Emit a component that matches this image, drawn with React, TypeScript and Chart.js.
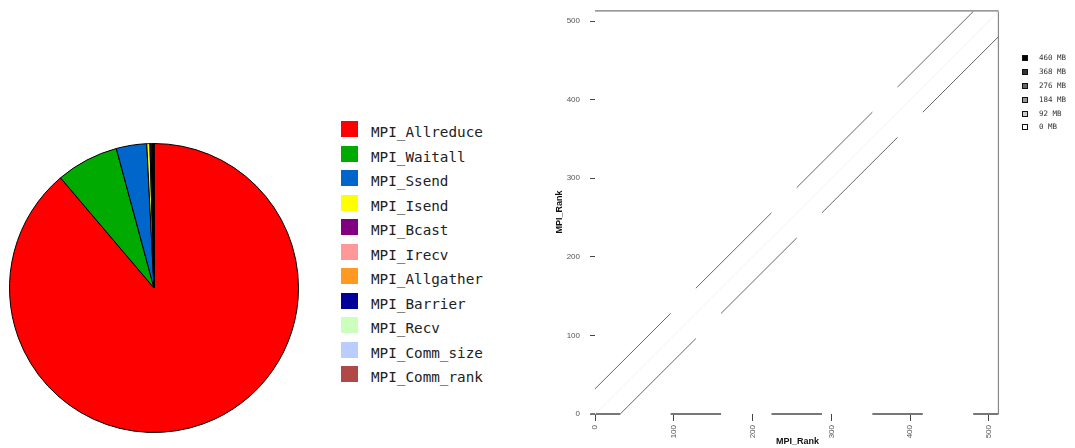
import React, { useEffect, useRef } from 'react';
import { Chart, registerables } from 'chart.js';

Chart.register(...registerables);

// ---------- Pie data ----------
const categories = [
  'MPI_Allreduce', 'MPI_Waitall', 'MPI_Ssend', 'MPI_Isend', 'MPI_Bcast', 'MPI_Irecv',
  'MPI_Allgather', 'MPI_Barrier', 'MPI_Recv', 'MPI_Comm_size', 'MPI_Comm_rank',
];
const pieValues = [88.8, 7.0, 3.4, 0.35, 0.12, 0.1, 0.08, 0.06, 0.04, 0.03, 0.02];
const pieColors = [
  '#ff0000', '#00aa00', '#0066cc', '#ffff00', '#800080', '#ff9999',
  '#ff9922', '#000099', '#ccffbb', '#bbccff', '#b04848',
];

// ---------- Communication matrix data ----------
const rankTicks = [0, 100, 200, 300, 400, 500];
const upperX = [0, 96, null, 128, 224, null, 256, 352, null, 384, 480];
const upperY = [32, 128, null, 160, 256, null, 288, 384, null, 416, 512];
const lowerX = [32, 128, null, 160, 256, null, 288, 384, null, 416, 512];
const lowerY = [0, 96, null, 128, 224, null, 256, 352, null, 384, 480];
const bottomX = [-6, 32, null, 96, 160, null, 224, 288, null, 352, 416, null, 480, 512];
const bottomY = [0, 0, null, 0, 0, null, 0, 0, null, 0, 0, null, 0, 0];
const topX = [0, 512];
const topY = [513, 513];
const rightX = [512, 512];
const rightY = [0, 513];
const selfX = [0, 512];
const selfY = [0, 512];

const volumeLabels = ['460 MB', '368 MB', '276 MB', '184 MB', '92 MB', '0 MB'];
const volumeColors = ['#000000', '#333333', '#666666', '#999999', '#cccccc', '#ffffff'];

function pts(xs: (number | null)[], ys: (number | null)[]) {
  return xs.map((x, i) => (x === null ? { x: null, y: null } : { x, y: ys[i] })) as any;
}

function lineDs(xs: (number | null)[], ys: (number | null)[], color: string, width: number) {
  return {
    data: pts(xs, ys),
    showLine: true,
    borderColor: color,
    borderWidth: width,
    pointRadius: 0,
    pointHoverRadius: 0,
    spanGaps: false,
    clip: false as any,
    fill: false,
  };
}

export default function App() {
  const pieRef = useRef<HTMLCanvasElement | null>(null);
  const matRef = useRef<HTMLCanvasElement | null>(null);

  useEffect(() => {
    const pie = new Chart(pieRef.current!, {
      type: 'pie',
      data: {
        labels: categories,
        datasets: [
          {
            data: pieValues,
            backgroundColor: pieColors,
            borderColor: '#000000',
            borderWidth: 1,
            hoverOffset: 0,
          },
        ],
      },
      options: {
        animation: false,
        responsive: false,
        devicePixelRatio: 1,
        layout: { padding: 0 },
        plugins: { legend: { display: false }, tooltip: { enabled: false } },
      },
    });

    const tickFont = { family: 'Liberation Sans', size: 8 };
    const titleFont = { family: 'Liberation Sans', size: 9, weight: 'bold' as const };

    const mat = new Chart(matRef.current!, {
      type: 'scatter',
      data: {
        datasets: [
          lineDs(selfX, selfY, '#f2f2f2', 1),
          lineDs(upperX, upperY, '#666666', 1),
          lineDs(lowerX, lowerY, '#666666', 1),
          lineDs(bottomX, bottomY, '#777777', 2),
          lineDs(topX, topY, '#777777', 1.2),
          lineDs(rightX, rightY, '#888888', 1.2),
        ],
      },
      options: {
        animation: false,
        responsive: false,
        devicePixelRatio: 1,
        layout: { padding: { left: 0, top: 10, right: 75, bottom: 0 } },
        plugins: { legend: { display: false }, tooltip: { enabled: false } },
        scales: {
          x: {
            type: 'linear',
            min: 0,
            max: 514,
            afterFit: (s: any) => { s.height = 34; s.paddingLeft = 0; s.paddingRight = 0; },
            afterBuildTicks: (s: any) => { s.ticks = rankTicks.map((v) => ({ value: v })); },
            grid: { display: true, drawOnChartArea: false, drawTicks: true, tickLength: 7, color: '#444444' },
            border: { display: false },
            ticks: {
              autoSkip: false,
              minRotation: 90,
              maxRotation: 90,
              padding: 4,
              color: '#555555',
              font: tickFont,
            },
            title: { display: true, text: 'MPI_Rank', color: '#111111', font: titleFont, padding: { top: 0, bottom: 0.6 } },
          },
          y: {
            type: 'linear',
            min: 0,
            max: 514,
            afterFit: (s: any) => { s.width = 55; s.paddingTop = 0; s.paddingBottom = 0; },
            afterBuildTicks: (s: any) => { s.ticks = rankTicks.map((v) => ({ value: v })); },
            grid: { display: true, drawOnChartArea: false, drawTicks: true, tickLength: 5, color: '#444444' },
            border: { display: false },
            ticks: { autoSkip: false, padding: 10, color: '#555555', font: tickFont },
            title: { display: true, text: 'MPI_Rank', color: '#111111', font: titleFont, padding: { top: 14.6, bottom: 0 } },
          },
        },
      },
    });

    return () => {
      pie.destroy();
      mat.destroy();
    };
  }, []);

  return (
    <div style={{ position: 'fixed', left: 0, top: 0, width: 1075, height: 448, background: '#ffffff', overflow: 'hidden' }}>
      <canvas ref={pieRef} width={290} height={290} style={{ position: 'absolute', left: 9, top: 143, width: 290, height: 290 }} />
      {categories.map((c, i) => (
        <div key={c}>
          <div
            style={{
              position: 'absolute',
              left: 341,
              top: 121 + i * 24.5,
              width: 17,
              height: 16,
              background: pieColors[i],
            }}
          />
          <div
            style={{
              position: 'absolute',
              left: 371,
              top: 124 + i * 24.5,
              height: 16,
              lineHeight: '16px',
              fontFamily: '"DejaVu Sans Mono", monospace',
              fontSize: 14.3,
              color: '#222222',
              whiteSpace: 'nowrap',
            }}
          >
            {c}
          </div>
        </div>
      ))}
      <canvas ref={matRef} width={535} height={448} style={{ position: 'absolute', left: 540, top: 0, width: 535, height: 448 }} />
      {volumeLabels.map((l, i) => (
        <div key={l}>
          <div
            style={{
              position: 'absolute',
              left: 1022,
              top: 55.3 + i * 13.8,
              width: 4,
              height: 4,
              border: '1px solid #111111',
              background: volumeColors[i],
            }}
          />
          <div
            style={{
              position: 'absolute',
              left: 1039,
              top: 53.3 + i * 13.8,
              height: 10,
              lineHeight: '10px',
              fontFamily: '"DejaVu Sans Mono", monospace',
              fontSize: 7.5,
              color: '#333333',
              whiteSpace: 'nowrap',
            }}
          >
            {l}
          </div>
        </div>
      ))}
    </div>
  );
}
